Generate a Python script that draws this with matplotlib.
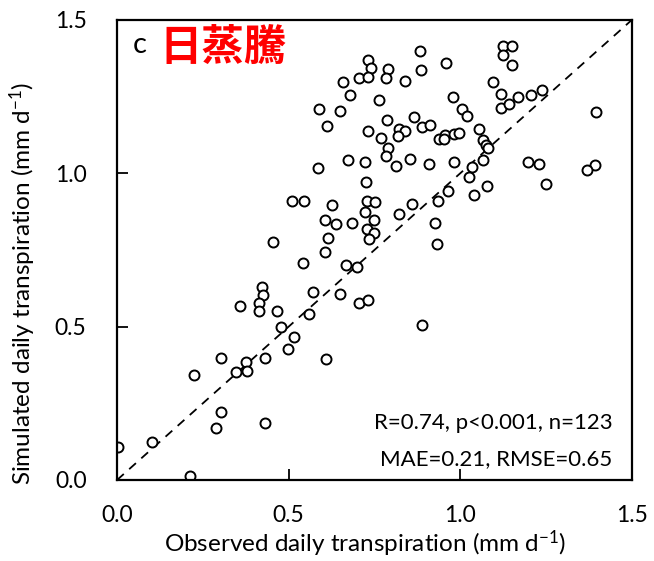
import matplotlib.pyplot as plt
import numpy as np

obs = [0.882, 0.732, 0.960, 0.739, 0.790, 0.887, 0.704, 0.732, 0.783, 0.657,
       0.840, 0.678, 0.978, 0.762, 1.005, 0.589, 0.651, 0.788, 0.866, 0.612,
       0.888, 0.911, 0.822, 0.839, 0.820, 0.732, 0.768, 0.938, 0.955, 0.952,
       0.982, 0.997, 0.790, 0.785, 0.673, 0.724, 0.853, 0.910, 0.982, 0.813,
       0.585, 1.124, 1.151, 1.124, 1.150, 1.096, 1.118, 1.169, 1.205, 1.239,
       1.118, 1.143, 1.019, 1.395, 1.054, 1.065, 1.075, 1.082, 1.067, 1.033,
       1.197, 1.230, 1.393, 1.369, 1.026, 1.077, 1.041, 1.250, 0.725, 0.511,
       0.544, 0.625, 0.727, 0.753, 0.723, 0.748, 0.605, 0.637, 0.686, 0.729,
       0.748, 0.735, 0.614, 0.605, 0.541, 0.668, 0.698, 0.822, 0.859, 0.936,
       0.964, 0.928, 0.931, 0.571, 0.649, 0.706, 0.731, 0.560, 0.453, 0.422,
       0.424, 0.414, 0.358, 0.414, 0.465, 0.479, 0.516, 0.499, 0.302, 0.431,
       0.375, 0.348, 0.380, 0.224, 0.304, 0.288, 0.431, 0.102, 0.002, 0.214,
       0.890, 0.610]
sim = [1.400, 1.369, 1.361, 1.343, 1.339, 1.337, 1.310, 1.315, 1.312, 1.297,
       1.301, 1.254, 1.249, 1.238, 1.210, 1.209, 1.203, 1.174, 1.183, 1.154,
       1.152, 1.157, 1.145, 1.138, 1.123, 1.137, 1.114, 1.113, 1.124, 1.113,
       1.128, 1.132, 1.082, 1.057, 1.044, 1.037, 1.046, 1.030, 1.036, 1.025,
       1.018, 1.415, 1.415, 1.387, 1.353, 1.297, 1.259, 1.250, 1.256, 1.272,
       1.214, 1.225, 1.187, 1.201, 1.145, 1.109, 1.092, 1.082, 1.043, 1.021,
       1.038, 1.030, 1.027, 1.011, 0.989, 0.960, 0.930, 0.965, 0.973, 0.911,
       0.911, 0.897, 0.909, 0.907, 0.874, 0.848, 0.847, 0.835, 0.839, 0.817,
       0.805, 0.785, 0.789, 0.743, 0.709, 0.701, 0.694, 0.867, 0.900, 0.911,
       0.943, 0.837, 0.769, 0.614, 0.605, 0.576, 0.588, 0.540, 0.775, 0.630,
       0.603, 0.576, 0.568, 0.551, 0.551, 0.500, 0.467, 0.426, 0.399, 0.399,
       0.386, 0.353, 0.355, 0.343, 0.223, 0.171, 0.186, 0.123, 0.107, 0.014,
       0.506, 0.395]
ticks = [0.0, 0.5, 1.0, 1.5]
stats = ["R=0.74, p<0.001, n=123", "MAE=0.21, RMSE=0.65"]

plt.rcParams['font.family'] = ['Lato', 'DejaVu Sans']
plt.rcParams['mathtext.default'] = 'regular'

fig = plt.figure(figsize=(6.54, 5.61), dpi=100)
ax = fig.add_axes([0.179, 0.1444, 0.787, 0.82])

# 1:1 line
ax.plot([0, 1.5], [0, 1.5], 'k--', lw=1.3, dashes=(5, 4))
ax.plot(obs, sim, 'o', mfc='white', mec='black', ms=7.2, mew=1.4, ls='none')

ax.set_xlim(0, 1.5)
ax.set_ylim(0, 1.5)
ax.set_xticks(ticks)
ax.set_yticks(ticks)
ax.set_xticklabels(['%.1f' % t for t in ticks])
ax.set_yticklabels(['%.1f' % t for t in ticks])
ax.tick_params(axis='x', direction='in', length=8, width=1.3, labelsize=16.5, pad=18)
ax.tick_params(axis='y', direction='in', length=8, width=1.3, labelsize=16.5, pad=22)
for s in ax.spines.values():
    s.set_linewidth(1.6)

ax.set_xlabel('Observed daily transpiration (mm d$^{-1}$)', fontsize=17.5, va='center')
ax.set_ylabel('Simulated daily transpiration (mm d$^{-1}$)', fontsize=17.5, va='center')
ax.xaxis.set_label_coords(0.481, -0.139)
ax.yaxis.set_label_coords(-0.183, 0.427)

ax.text(0.031, 0.946, 'c', transform=ax.transAxes, fontsize=21, va='center')
ax.text(0.083, 0.940, '日蒸騰', transform=ax.transAxes, fontsize=30.5, color='red',
        fontweight='bold', va='center', family=['Noto Sans CJK TC', 'DejaVu Sans'])
ax.text(0.963, 0.111, stats[0], transform=ax.transAxes, fontsize=16, ha='right', va='baseline')
ax.text(0.963, 0.0325, stats[1], transform=ax.transAxes, fontsize=16, ha='right', va='baseline')

fig.savefig('out.png', dpi=100)
